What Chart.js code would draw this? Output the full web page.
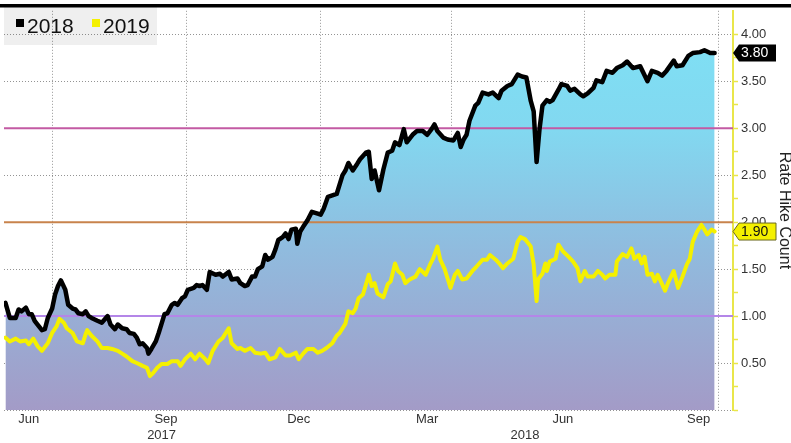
<!DOCTYPE html>
<html>
<head>
<meta charset="utf-8">
<script src="https://cdn.jsdelivr.net/npm/chart.js@4.4.1/dist/chart.umd.min.js"></script>
<style>
  html, body { margin: 0; padding: 0; background: #fff; }
  #wrap { width: 791px; height: 443px; position: relative; }
</style>
</head>
<body>
<div id="wrap"><canvas id="hike-chart"></canvas></div>
<script>
// x values are days counted from 1 Jun 2017
const days2018 = [-2, 1, 5, 7, 9, 12, 14, 16, 18, 20, 23, 25, 27, 30, 32, 34, 36, 39, 41, 44,
    46, 48, 51, 53, 55, 57, 61, 64, 68, 70, 73, 75, 78, 81, 83, 86, 88, 90, 92, 95,
    96, 98, 101, 103, 105, 107, 109, 112, 114, 116, 119, 121, 123, 127, 129, 131, 133, 136, 138, 142,
    145, 147, 151, 153, 157, 159, 162, 164, 167, 169, 171, 174, 176, 178, 181, 183, 185, 188, 190, 192,
    194, 197, 198, 200, 202, 205, 208, 212, 214, 216, 219, 223, 225, 229, 231, 233, 236, 239, 241, 245,
    247, 249, 251, 254, 257, 260, 263, 265, 268, 271, 273, 277, 280, 284, 287, 290, 292, 294, 298, 301,
    305, 308, 310, 312, 314, 316, 320, 322, 325, 329, 332, 336, 338, 342, 345, 349, 352, 355, 358, 360,
    362, 364, 366, 369, 371, 373, 377, 379, 383, 385, 388, 392, 394, 397, 401, 403, 407, 410, 414, 417,
    421, 424, 428, 433, 438, 441, 445, 448, 451, 456, 458, 462, 466, 469, 474, 477, 481, 484]
const hikes2018 = [1.14, 0.98, 0.98, 1.07, 1.05, 1.09, 1.02, 1.02, 0.95, 0.91, 0.85, 0.86, 0.98, 1.08, 1.23, 1.32, 1.38, 1.28, 1.12, 1.08,
    1.07, 1.03, 1.02, 1.05, 1.00, 0.98, 0.95, 0.93, 1.00, 0.91, 0.86, 0.91, 0.87, 0.86, 0.82, 0.81, 0.77, 0.70, 0.71, 0.66,
    0.60, 0.65, 0.73, 0.82, 0.92, 1.02, 1.03, 1.12, 1.14, 1.12, 1.19, 1.21, 1.28, 1.30, 1.33, 1.32, 1.33, 1.28, 1.47, 1.44,
    1.45, 1.42, 1.47, 1.39, 1.40, 1.35, 1.32, 1.33, 1.42, 1.42, 1.50, 1.53, 1.65, 1.60, 1.63, 1.71, 1.81, 1.84, 1.88, 1.82,
    1.92, 1.93, 1.77, 1.90, 1.95, 2.02, 2.11, 2.09, 2.08, 2.14, 2.27, 2.29, 2.30, 2.50, 2.55, 2.63, 2.55, 2.62, 2.67, 2.74,
    2.75, 2.46, 2.55, 2.34, 2.56, 2.74, 2.76, 2.85, 2.82, 2.99, 2.85, 2.93, 2.97, 2.97, 2.93, 2.99, 3.04, 2.97, 2.90, 2.88,
    2.87, 2.95, 2.80, 2.88, 2.93, 3.08, 3.24, 3.27, 3.38, 3.36, 3.38, 3.32, 3.40, 3.45, 3.47, 3.57, 3.55, 3.54, 3.29, 3.18,
    2.64, 2.99, 3.24, 3.30, 3.28, 3.30, 3.41, 3.47, 3.45, 3.40, 3.42, 3.36, 3.34, 3.37, 3.43, 3.51, 3.49, 3.61, 3.59, 3.64,
    3.67, 3.71, 3.64, 3.66, 3.50, 3.61, 3.59, 3.56, 3.61, 3.72, 3.66, 3.67, 3.77, 3.80, 3.81, 3.83, 3.80, 3.80]

const days2019 = [-2, 1, 5, 8, 12, 14, 17, 20, 23, 27, 30, 33, 35, 38, 40, 44, 47, 51, 53, 54,
    57, 61, 64, 68, 71, 75, 78, 81, 85, 88, 92, 95, 97, 99, 102, 105, 109, 112, 116, 118,
    121, 125, 128, 131, 135, 137, 140, 144, 147, 151, 153, 157, 159, 162, 166, 169, 173, 176, 179, 183,
    186, 190, 193, 197, 199, 202, 205, 209, 212, 215, 218, 222, 225, 227, 231, 233, 236, 238, 240, 243,
    247, 249, 251, 253, 257, 260, 262, 265, 267, 270, 272, 275, 279, 282, 286, 289, 291, 294, 296, 299,
    301, 303, 306, 308, 311, 314, 318, 321, 325, 328, 330, 334, 337, 339, 342, 346, 349, 351, 354, 358,
    360, 362, 363, 366, 368, 369, 371, 375, 377, 380, 384, 387, 390, 392, 395, 397, 401, 404, 407, 409,
    412, 416, 417, 421, 424, 427, 429, 432, 434, 436, 438, 441, 443, 445, 448, 450, 452, 456, 459, 462,
    465, 467, 469, 472, 475, 477, 479, 482, 484]
const hikes2019 = [0.77, 0.73, 0.76, 0.73, 0.74, 0.70, 0.76, 0.68, 0.63, 0.71, 0.82, 0.89, 0.97, 0.93, 0.87, 0.82, 0.73, 0.71, 0.81, 0.85,
    0.79, 0.73, 0.66, 0.66, 0.65, 0.63, 0.60, 0.57, 0.52, 0.50, 0.47, 0.45, 0.36, 0.39, 0.45, 0.49, 0.49, 0.52, 0.52, 0.47,
    0.54, 0.60, 0.54, 0.60, 0.54, 0.50, 0.63, 0.73, 0.77, 0.87, 0.71, 0.65, 0.66, 0.63, 0.66, 0.61, 0.60, 0.61, 0.54, 0.56,
    0.65, 0.58, 0.58, 0.61, 0.54, 0.60, 0.65, 0.65, 0.61, 0.63, 0.66, 0.71, 0.79, 0.82, 0.92, 1.05, 1.03, 1.08, 1.19, 1.23,
    1.44, 1.32, 1.35, 1.24, 1.20, 1.34, 1.37, 1.56, 1.48, 1.44, 1.35, 1.39, 1.42, 1.50, 1.44, 1.55, 1.61, 1.74, 1.60, 1.50,
    1.40, 1.30, 1.44, 1.48, 1.39, 1.40, 1.48, 1.53, 1.60, 1.60, 1.65, 1.60, 1.55, 1.51, 1.56, 1.61, 1.79, 1.84, 1.82, 1.74,
    1.55, 1.16, 1.39, 1.45, 1.56, 1.48, 1.58, 1.61, 1.76, 1.69, 1.63, 1.58, 1.51, 1.37, 1.48, 1.42, 1.42, 1.48, 1.44, 1.40,
    1.44, 1.44, 1.58, 1.66, 1.63, 1.72, 1.61, 1.65, 1.56, 1.63, 1.44, 1.45, 1.37, 1.44, 1.34, 1.27, 1.35, 1.48, 1.30, 1.42,
    1.55, 1.61, 1.79, 1.90, 1.97, 1.92, 1.87, 1.92, 1.90]

const seriesNames = ['2018', '2019']
const seriesColors = ['#000000', '#f4f000']

const quarterDays = [30, 122, 214, 304, 395, 487]   // 1 Jul 2017 .. 1 Oct 2018
const monthLabels = ['Jun', 'Sep', 'Dec', 'Mar', 'Jun', 'Sep']
const monthLabelDays = [14, 108, 199, 287, 380, 473]
const yearLabels = ['2017', '2018']
const yearLabelDays = [105, 354]

const refLevels = [3, 2, 1]
const refColors = ['#c35aa3', '#c8834c', '#b486e8']

const xMin = -3
const xMax = 496.6

const FONT = "'Liberation Sans', Arial, sans-serif"
const gridDot = 'rgba(0,0,0,0.42)'
const clear = 'rgba(0,0,0,0)'
const axisYellow = '#e9e64a'

function toPoints(days, values) {
    return days.map((d, i) => ({ x: d, y: values[i] }))
}

function isMajor(v) {
    return Math.abs(v * 2 - Math.round(v * 2)) < 1e-6 && v <= 4.001
}

function areaFill(context) {
    const { ctx, chartArea } = context.chart
    if (!chartArea) return clear
    const g = ctx.createLinearGradient(0, chartArea.top, 0, chartArea.bottom)
    g.addColorStop(0, '#7ee2f6')
    g.addColorStop(0.3, '#82d8f0')
    g.addColorStop(0.6, '#90bbde')
    g.addColorStop(1, '#a39bc7')
    return g
}

// grey legend box in the top left corner, drawn under the grid
const legendBox = {
    id: 'legendBox',
    beforeDraw(chart) {
        const ctx = chart.ctx
        ctx.save()
        ctx.fillStyle = '#efefef'
        ctx.fillRect(4, 7, 153, 38)
        ctx.font = '21px ' + FONT
        ctx.textBaseline = 'alphabetic'
        let x = 16
        seriesNames.forEach((name, i) => {
            ctx.fillStyle = seriesColors[i]
            ctx.fillRect(x, 19, 8, 8)
            ctx.fillStyle = '#111'
            ctx.fillText(name, x + 11, 32.5)
            x += 76
        })
        ctx.restore()
    }
}

// last-value tags on the right axis, plus the dark rule at the top
const valueTags = {
    id: 'valueTags',
    afterDraw(chart) {
        const ctx = chart.ctx
        const yScale = chart.scales.y
        const right = chart.chartArea.right
        ctx.save()
        ctx.fillStyle = '#000'
        ctx.fillRect(0, 4, chart.width, 3.5)
        ctx.font = '14px ' + FONT
        ctx.textBaseline = 'middle'
        ;[0, 1].forEach(i => {
            const data = chart.data.datasets[i].data
            const last = data[data.length - 1].y
            const py = yScale.getPixelForValue(last)
            ctx.beginPath()
            ctx.moveTo(right, py)
            ctx.lineTo(right + 6, py - 8.5)
            ctx.lineTo(right + 43, py - 8.5)
            ctx.lineTo(right + 43, py + 8.5)
            ctx.lineTo(right + 6, py + 8.5)
            ctx.closePath()
            ctx.fillStyle = i === 0 ? '#000' : seriesColors[1]
            ctx.fill()
            if (i === 1) {
                ctx.strokeStyle = '#6b6a20'
                ctx.lineWidth = 1
                ctx.stroke()
            }
            ctx.fillStyle = i === 0 ? '#fff' : '#111'
            ctx.fillText(last.toFixed(2), right + 8, py + 0.5)
        })
        ctx.restore()
    }
}

const datasets = [
    {
        label: seriesNames[0],
        data: toPoints(days2018, hikes2018),
        borderColor: seriesColors[0],
        borderWidth: 4.5,
        backgroundColor: areaFill,
        fill: 'origin',
        order: 1
    },
    {
        label: seriesNames[1],
        data: toPoints(days2019, hikes2019),
        borderColor: seriesColors[1],
        borderWidth: 4,
        fill: false,
        order: 0
    }
].concat(refLevels.map((lv, i) => ({
    label: 'level ' + lv,
    data: [{ x: xMin, y: lv }, { x: xMax, y: lv }],
    borderColor: refColors[i],
    borderWidth: 2,
    fill: false,
    order: 5
})))

new Chart(document.getElementById('hike-chart'), {
    type: 'line',
    data: { datasets },
    options: {
        responsive: true,
        maintainAspectRatio: false,
        animation: false,
        events: [],
        layout: { padding: { left: 4, top: 7.5, right: 0, bottom: 0 } },
        elements: {
            point: { radius: 0 },
            line: { tension: 0, borderJoinStyle: 'round', borderCapStyle: 'round' }
        },
        plugins: {
            legend: { display: false },
            tooltip: { enabled: false },
            filler: { drawTime: 'beforeDatasetsDraw' }
        },
        scales: {
            x: {
                type: 'linear',
                min: xMin,
                max: xMax,
                z: 1,
                afterFit: s => { s.height = 33 },
                afterBuildTicks: s => {
                    const vals = quarterDays.concat(monthLabelDays, yearLabelDays).sort((a, b) => a - b)
                    s.ticks = vals.map(v => ({ value: v }))
                },
                ticks: {
                    autoSkip: false,
                    maxRotation: 0,
                    padding: 2,
                    color: '#333',
                    font: { family: FONT, size: 13 },
                    callback: value => {
                        let i = monthLabelDays.indexOf(value)
                        if (i >= 0) return monthLabels[i]
                        i = yearLabelDays.indexOf(value)
                        if (i >= 0) return ['', yearLabels[i]]
                        return ''
                    }
                },
                grid: {
                    color: ctx => ctx.tick && quarterDays.includes(ctx.tick.value) ? gridDot : clear,
                    drawTicks: false,
                    lineWidth: 1
                },
                border: { display: false, dash: [1, 2] }
            },
            y: {
                type: 'linear',
                position: 'right',
                min: 0,
                max: 4.25,
                z: 1,
                afterFit: s => { s.width = 58 },
                ticks: {
                    stepSize: 0.25,
                    autoSkip: false,
                    padding: 3,
                    color: '#333',
                    font: { family: FONT, size: 13 },
                    callback: v => (isMajor(v) && v > 0) ? v.toFixed(2) : ''
                },
                grid: {
                    color: ctx => ctx.tick && isMajor(ctx.tick.value) ? gridDot : clear,
                    tickColor: ctx => ctx.tick && ctx.tick.value < 4.2 ? axisYellow : clear,
                    tickLength: 5,
                    tickWidth: 1.5,
                    tickBorderDash: [],
                    lineWidth: 1
                },
                border: { display: true, color: axisYellow, width: 2, dash: [1, 2] },
                title: {
                    display: true,
                    text: 'Rate Hike Count',
                    color: '#222',
                    font: { family: FONT, size: 16 },
                    padding: { top: -3, bottom: 0 }
                }
            }
        }
    },
    plugins: [legendBox, valueTags]
})
</script>
</body>
</html>
